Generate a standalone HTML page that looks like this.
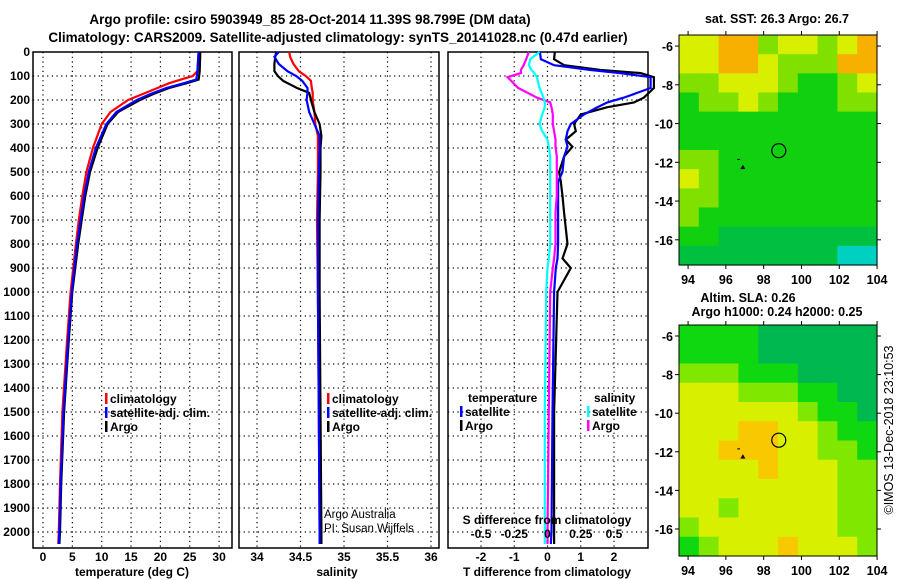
<!DOCTYPE html>
<html><head><meta charset="utf-8">
<style>
html,body{margin:0;padding:0;background:#fff;}
svg{display:block;font-family:"Liberation Sans",Arial,sans-serif;}
</style></head>
<body>
<svg id="chart" width="900" height="580" viewBox="0 0 900 580" xmlns="http://www.w3.org/2000/svg">
<text x="310" y="24" font-size="13.5" font-weight="bold" text-anchor="middle">Argo profile: csiro 5903949_85 28-Oct-2014 11.39S 98.799E (DM data)</text>
<text x="338" y="42" font-size="13.5" font-weight="bold" text-anchor="middle">Climatology: CARS2009. Satellite-adjusted climatology: synTS_20141028.nc (0.47d earlier)</text>
<g id="g"></g>
</svg>
<script>
// ---------- data ----------
const tDepth   = [0,80,100,115,130,150,175,200,250,300,400,500,600,700,800,1000,1200,1500,1800,2000,2050];
const tClim    = [26.5,26.3,25.5,23.5,21.5,19.5,17,14.5,11.5,10,8.5,7.4,6.7,6.1,5.6,4.7,4.1,3.3,2.9,2.7,2.6];
const tSat     = [26.5,26.3,26.2,26.1,24,21,18.3,16,12.5,10.8,9.0,7.8,7.0,6.4,5.8,4.9,4.3,3.5,3.0,2.8,2.7];
const tArgo    = [26.8,26.7,26.6,26.5,24.5,21.5,18.8,16.5,12.8,11.0,9.3,8.0,7.2,6.6,6.0,5.0,4.4,3.6,3.1,2.9,2.8];
const sDepth   = [0,20,50,80,100,120,150,170,200,250,300,350,400,500,700,1000,1500,2000,2050];
const sClim    = [34.37,34.38,34.42,34.48,34.56,34.62,34.63,34.64,34.64,34.66,34.67,34.70,34.70,34.70,34.69,34.70,34.71,34.72,34.72];
const sSat     = [34.25,34.2,34.25,34.35,34.45,34.52,34.58,34.58,34.57,34.60,34.66,34.72,34.72,34.71,34.70,34.70,34.71,34.72,34.72];
const sArgo    = [34.22,34.21,34.2,34.2,34.24,34.3,34.46,34.6,34.62,34.66,34.72,34.74,34.73,34.73,34.72,34.72,34.73,34.74,34.74];
const dDepth   = [0,30,55,75,88,105,150,190,210,230,260,300,330,365,395,435,500,540,600,670,800,860,900,1000,1500,2000,2050];
const dTsat    = [-0.23,-0.2,0.2,1.3,2.2,3.1,3.1,2.3,1.8,1.5,1.1,0.7,0.6,0.55,0.6,0.5,0.45,0.32,0.32,0.32,0.32,0.3,0.25,0.2,0.15,0.12,0.1];
const dTargo   = [0.22,0.2,0.5,1.6,2.8,3.2,3.2,2.9,2.6,1.8,1.0,0.8,0.85,0.55,0.75,0.5,0.35,0.4,0.45,0.5,0.6,0.45,0.7,0.3,0.2,0.2,0.2];
const dSsat    = [-0.06,-0.13,-0.14,-0.12,-0.1,-0.08,-0.06,-0.03,-0.02,-0.02,-0.04,-0.06,-0.04,0,0.01,0.02,0.02,0.02,0.02,0.02,0.02,0.01,0,-0.01,-0.02,-0.02,-0.02];
const dSargo   = [-0.14,-0.16,-0.18,-0.2,-0.2,-0.3,-0.22,-0.08,0.02,0.03,0.04,0.04,0.05,0.06,0.06,0.07,0.07,0.07,0.07,0.06,0.06,0.05,0.04,0.02,0.01,0.0,0.0];
const tTicks   = [0,5,10,15,20,25,30];
const sTicks   = [34,34.5,35,35.5,36];
const dTTicks  = [-2,-1,0,1,2];
const dSTicks  = [-0.5,-0.25,0,0.25,0.5];
const depthTicks = [0,100,200,300,400,500,600,700,800,900,1000,1100,1200,1300,1400,1500,1600,1700,1800,1900,2000];
const lonTicks = [94,96,98,100,102,104];
const latTicks = [-6,-8,-10,-12,-14,-16];
const sstGrid = ["4455344345","4455433355","3344432234","2334322233","2222222222","2222222222","3322222222","4322222222","3322222222","3222222222","2211111111","1111111100"];
const slaGrid = ["2222111111","2222111111","3332221111","4443332211","4444443221","4445544322","4455544332","4444544433","4444444433","4434444433","3444444433","2344454443"];
const argoLon = 98.8, argoLat = -11.4;

// ---------- helpers ----------
const NS="http://www.w3.org/2000/svg";
const G=document.getElementById('g');
function el(tag,at,parent){const e=document.createElementNS(NS,tag);for(const k in at)e.setAttribute(k,at[k]);(parent||G).appendChild(e);return e;}
function txt(s,x,y,at){const e=el('text',Object.assign({x:x,y:y,'font-size':12,'font-weight':'bold'},at||{}));e.textContent=s;return e;}
const yD=d=>52+d*0.24;
const Y0=52,Y1=548;
function panel(name,x0,x1,fx,xticks,gridVals){
  const p=el('g',{});
  
  
  gridVals.forEach(v=>{const gx=fx(v);const l=el('line',{x1:gx,x2:gx,y1:Y0,y2:Y1,stroke:'#000','stroke-width':1.2,'stroke-dasharray':'1.2,3.5'},p);});
  depthTicks.slice(1).forEach(d=>{const l=el('line',{x1:x0,x2:x1,y1:yD(d),y2:yD(d),stroke:'#000','stroke-width':1.2,'stroke-dasharray':'1.2,3.5'},p);});
  const r=el('rect',{x:x0,y:Y0,width:x1-x0,height:Y1-Y0,fill:'none',stroke:'#000','stroke-width':1.5},p);
  
  return p;
}
function line(p,xs,ds,fx,color,name){
  const pts=xs.map((v,i)=>fx(v).toFixed(1)+','+yD(ds[i]).toFixed(1)).join(' ');
  const l=el('polyline',{points:pts,fill:'none',stroke:color,'stroke-width':2.2},p);
  
}
function legendEntry(p,x,y,color,label){
  const t=el('rect',{x:x,y:y-10,width:2.5,height:11,fill:color},p);
  
  const s=txt(label,x+5,y,{});p.appendChild(s);
  
}

depthTicks.forEach(d=>{const t=txt(String(d),30,yD(d)+4,{'text-anchor':'end'});});

// ---- panel 1 temperature ----
const fT=v=>43+v*5.87;
const p1=panel('temperature-panel',33,232,fT,tTicks,tTicks);
line(p1,tClim,tDepth,fT,'#ff0000','climatology-temperature-line');
line(p1,tArgo,tDepth,fT,'#000000','argo-temperature-line');
line(p1,tSat,tDepth,fT,'#0000ff','satellite-temperature-line');
tTicks.forEach(v=>{const t=txt(String(v),fT(v),561,{'text-anchor':'middle'});});
{const t=txt('temperature (deg C)',132,576,{'text-anchor':'middle'});}
legendEntry(p1,105,403,'#ff0000','climatology');
legendEntry(p1,105,417,'#0000ff','satellite-adj. clim.');
legendEntry(p1,105,431,'#000000','Argo');

// ---- panel 2 salinity ----
const fS=v=>257+(v-34)*87;
const p2=panel('salinity-panel',239,439,fS,sTicks,sTicks);
line(p2,sClim,sDepth,fS,'#ff0000','climatology-salinity-line');
line(p2,sArgo,sDepth,fS,'#000000','argo-salinity-line');
line(p2,sSat,sDepth,fS,'#0000ff','satellite-salinity-line');
sTicks.forEach(v=>{const t=txt(String(v),fS(v),561,{'text-anchor':'middle'});});
{const t=txt('salinity',337,576,{'text-anchor':'middle'});}
legendEntry(p2,327,403,'#ff0000','climatology');
legendEntry(p2,327,417,'#0000ff','satellite-adj. clim.');
legendEntry(p2,327,431,'#000000','Argo');
{const t=txt('Argo Australia',324,518,{'font-weight':'normal','font-size':11.5});}
{const t=txt('PI: Susan Wijffels',324,532,{'font-weight':'normal','font-size':11.5});}

// ---- panel 3 differences ----
const fDT=v=>547.5+v*33.25;
const fDS=v=>547.5+v*133;
const p3=panel('difference-panel',448,648,fDT,dTTicks,dTTicks);
line(p3,dTargo,dDepth,fDT,'#000000','argo-temperature-difference-line');
line(p3,dTsat,dDepth,fDT,'#0000ff','satellite-temperature-difference-line');
line(p3,dSargo,dDepth,fDS,'#ff00ff','argo-salinity-difference-line');
line(p3,dSsat,dDepth,fDS,'#00ffff','satellite-salinity-difference-line');
dTTicks.forEach(v=>{const t=txt(String(v),fDT(v),561,{'text-anchor':'middle'});});
dSTicks.forEach(v=>{const t=txt(String(v),fDS(v),538,{'text-anchor':'middle'});});
{const t=txt('S difference from climatology',547,524,{'text-anchor':'middle'});}
{const t=txt('T difference from climatology',547,576,{'text-anchor':'middle'});}
{const t=txt('temperature',468,402,{});}
{const t=txt('salinity',594,402,{});}
legendEntry(p3,460,416,'#0000ff','satellite');
legendEntry(p3,460,430,'#000000','Argo');
legendEntry(p3,587,416,'#00ffff','satellite');
legendEntry(p3,587,430,'#ff00ff','Argo');

// ---- maps ----
function map(name,y0,y1,latTop,latBot,grid,colors,title){
  const x0=679,x1=877;
  const m=el('g',{});
  
  const fx=lon=>x0+(lon-93.52)*18.9;
  const fy=lat=>y0+(latTop-lat)*(y1-y0)/(latTop-latBot);
  const rows=grid.length,cols=grid[0].length,cw=(x1-x0)/cols,ch=(y1-y0)/rows;
  grid.forEach((row,r)=>{for(let c=0;c<cols;c++){const cell=el('rect',{x:x0+c*cw,y:y0+r*ch,width:cw+0.6,height:ch+0.6,fill:colors[+row[c]]},m);}});
  const fr=el('rect',{x:x0,y:y0,width:x1-x0,height:y1-y0,fill:'none',stroke:'#000','stroke-width':1},m);
  
  lonTicks.forEach(v=>{const x=fx(v);el('line',{x1:x,x2:x,y1:y0,y2:y0-4,stroke:'#000'},m);el('line',{x1:x,x2:x,y1:y1,y2:y1+4,stroke:'#000'},m);const t=txt(String(v),x,y1+19,{'text-anchor':'middle','font-size':12.5});});
  latTicks.forEach(v=>{const y=fy(v);el('line',{x1:x0-4,x2:x0,y1:y,y2:y,stroke:'#000'},m);el('line',{x1:x1,x2:x1+4,y1:y,y2:y,stroke:'#000'},m);const t=txt(String(v),673,y+5,{'text-anchor':'end','font-size':12.5});});
  const c=el('circle',{cx:fx(argoLon),cy:fy(argoLat),r:7,fill:'none',stroke:'#000','stroke-width':1.2},m);
  
  const tr=el('polygon',{points:`${fx(96.9)-2.5},${fy(-12.25)+2} ${fx(96.9)+2.5},${fy(-12.25)+2} ${fx(96.9)},${fy(-12.25)-2.5}`,fill:'#000'},m);
  
  el('line',{x1:fx(96.6),x2:fx(96.75),y1:fy(-11.85),y2:fy(-11.85),stroke:'#000'},m);
  title.forEach((s,i)=>{const t=txt(s[0],s[1],s[2],{'text-anchor':'middle','font-size':12.5});});
}
map('sst-map',35,265,-5.43,-17.3,sstGrid,['#00d0c0','#00c040','#10d010','#80e000','#d8f000','#f8b000'],[['sat. SST: 26.3 Argo: 26.7',777,23]]);
map('sla-map',325,556,-5.43,-17.4,slaGrid,['#00d0c0','#00b850','#10d810','#80e800','#d8f000','#f8c800'],[['Altim. SLA: 0.26',748,302],['Argo h1000: 0.24 h2000: 0.25',777,316]]);
{const t=txt('©IMOS 13-Dec-2018 23:10:53',0,0,{'font-weight':'normal','font-size':12.5,'text-anchor':'middle',transform:'translate(893,430) rotate(-90)'});}
</script>
</body></html>
